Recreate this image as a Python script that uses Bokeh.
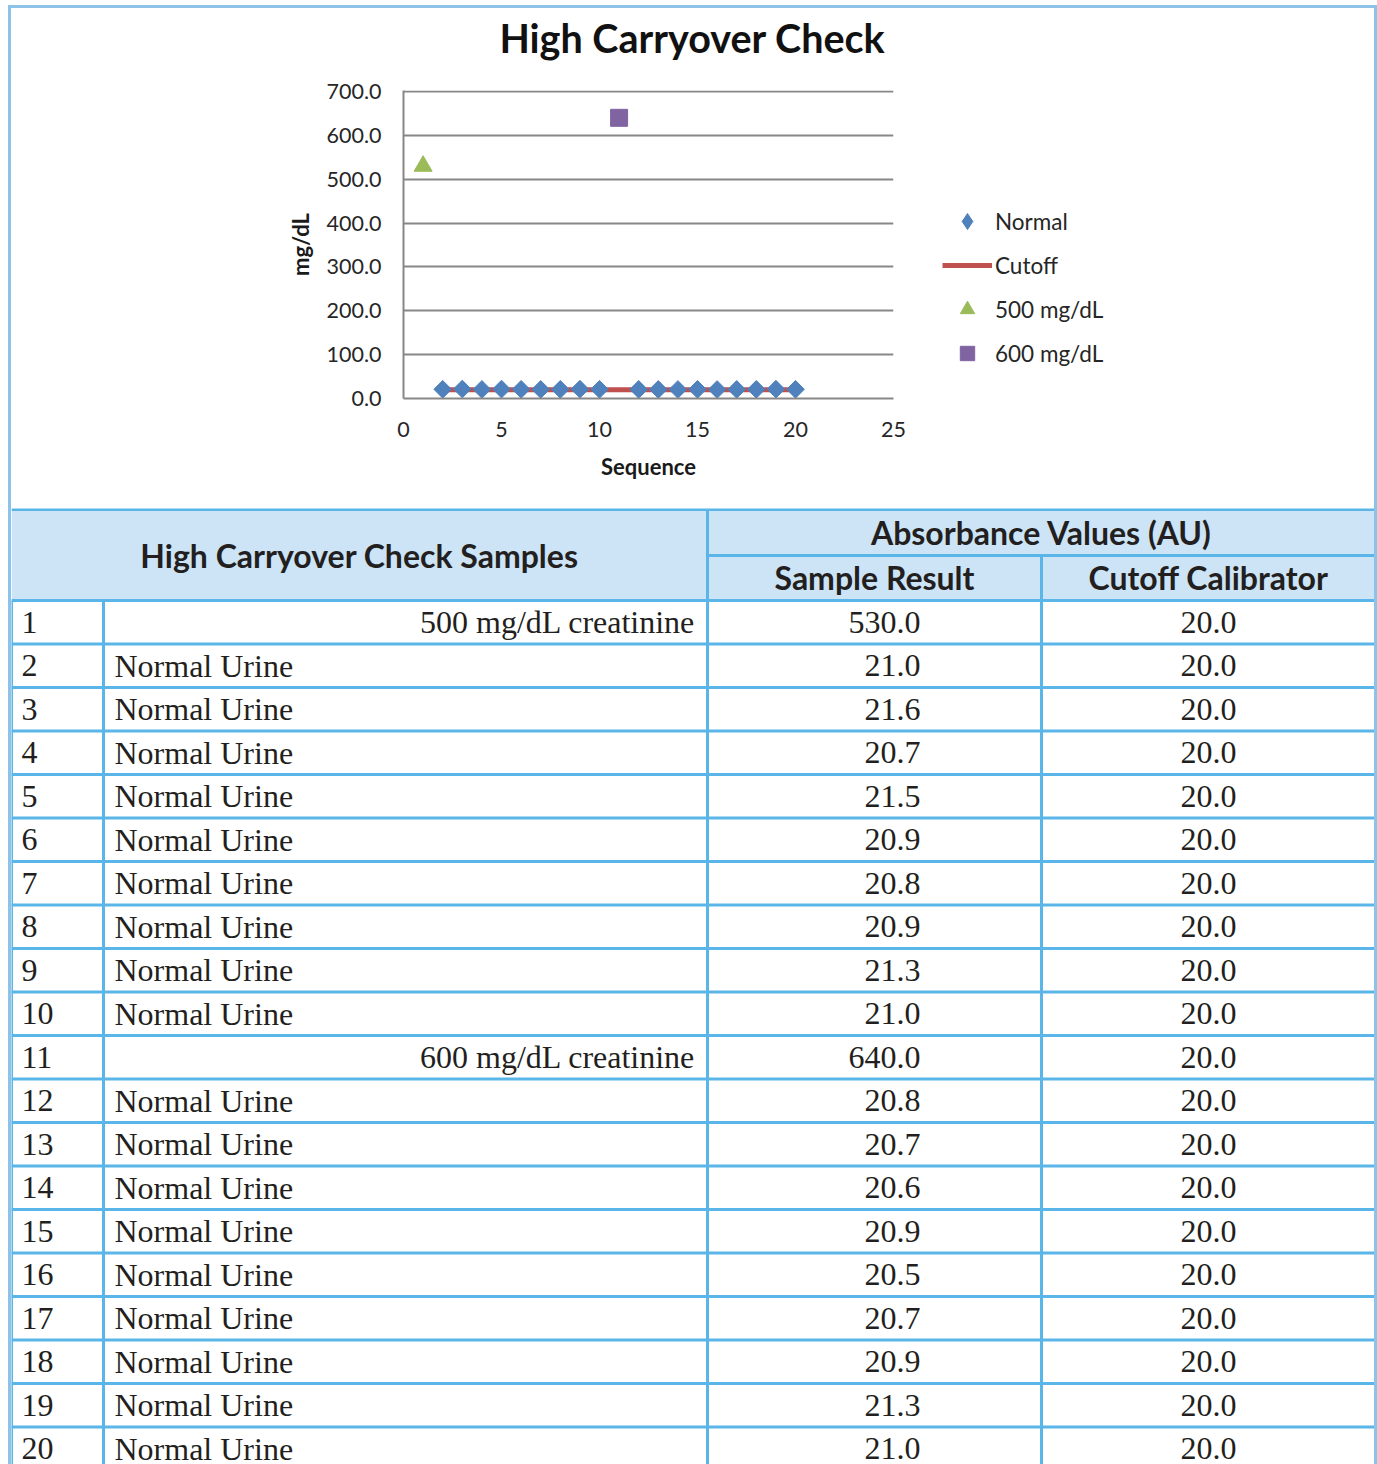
import math
from bokeh.plotting import figure
from bokeh.layouts import column, row
from bokeh.models import (Range1d, FixedTicker, PrintfTickFormatter, Legend,
                          LegendItem, ColumnDataSource)
from bokeh.core.properties import value
from bokeh.embed import file_html
from bokeh.resources import INLINE

# ---- data -------------------------------------------------------------
sequence = list(range(1, 21))
sample_names = (["500 mg/dL creatinine"] + ["Normal Urine"] * 9 +
                ["600 mg/dL creatinine"] + ["Normal Urine"] * 9)
sample_result = [530.0, 21.0, 21.6, 20.7, 21.5, 20.9, 20.8, 20.9, 21.3, 21.0,
                 640.0, 20.8, 20.7, 20.6, 20.9, 20.5, 20.7, 20.9, 21.3, 21.0]
cutoff_calibrator = [20.0] * 20
x_ticks = [0, 5, 10, 15, 20, 25]
y_ticks = [0, 100, 200, 300, 400, 500, 600, 700]

series_labels = ["Normal", "Cutoff", "500 mg/dL", "600 mg/dL"]
chart_title = "High Carryover Check"
table_title = "High Carryover Check Samples"
group_title = "Absorbance Values (AU)"
col_titles = ["Sample Result", "Cutoff Calibrator"]

# ---- styling ----------------------------------------------------------
BLUE = "#4f81bd"
RED = "#c0504d"
GREEN = "#9bbb59"
PURPLE = "#8064a2"
GRID = "#878787"
INK = "#262626"
TABLE_INK = "#231f20"
RULE = "#5ab5e8"
HEAD_FILL = "#cce4f6"
FRAME = "#8ec3e9"
SANS = "Lato"
SERIF = "Liberation Serif"

W = 1363            # inner width of the bordered panel
TITLE_H = 60
CHART_H = 440
TABLE_H = 956
CHART_W = 912
KEY_W = W - CHART_W
Y_TOP = 702.3       # a hair above the last tick so its grid line is drawn

# ---- series split -----------------------------------------------------
is_normal = [n == "Normal Urine" for n in sample_names]
normal_x = [s for s, k in zip(sequence, is_normal) if k]
normal_y = [v for v, k in zip(sample_result, is_normal) if k]
cut_x = sequence[1:]
cut_y = cutoff_calibrator[1:]
hi500_x = [s for s, n in zip(sequence, sample_names) if n.startswith("500")]
hi500_y = [v for v, n in zip(sample_result, sample_names) if n.startswith("500")]
hi600_x = [s for s, n in zip(sequence, sample_names) if n.startswith("600")]
hi600_y = [v for v, n in zip(sample_result, sample_names) if n.startswith("600")]


def canvas(width, height, **kw):
    """A plain drawing surface whose data units are its own pixels."""
    c = figure(width=width, height=height, x_range=Range1d(0, width),
               y_range=Range1d(height, 0), x_axis_type=None, y_axis_type=None,
               output_backend="svg", toolbar_location=None, outline_line_color=None,
               border_fill_color="white", background_fill_color="white",
               frame_align=False, **kw)
    c.grid.visible = False
    return c


# ---- chart title ------------------------------------------------------
head = canvas(W, TITLE_H, min_border=0)
head.text(x=[681], y=[29], text=[chart_title], text_align="center",
          text_baseline="middle", text_font=value(SANS), text_font_style="bold",
          text_font_size="39.5px", text_color="#111111")

# ---- chart ------------------------------------------------------------
chart = figure(width=CHART_W, height=CHART_H, x_range=Range1d(0, 25),
               y_range=Range1d(0, Y_TOP), output_backend="svg", toolbar_location=None,
               min_border_left=392, min_border_right=30,
               min_border_top=22, min_border_bottom=110,
               outline_line_color=None, border_fill_color="white",
               background_fill_color="white", frame_align=False)

chart.xaxis.ticker = FixedTicker(ticks=x_ticks)
chart.yaxis.ticker = FixedTicker(ticks=y_ticks)
chart.yaxis.formatter = PrintfTickFormatter(format="%.1f")
for ax in (chart.xaxis[0], chart.yaxis[0]):
    ax.axis_line_color = GRID
    ax.axis_line_width = 2
    ax.major_tick_line_color = None
    ax.minor_tick_line_color = None
    ax.major_tick_out = 0
    ax.major_tick_in = 0
    ax.minor_tick_out = 0
    ax.major_label_text_font = SANS
    ax.major_label_text_font_size = "21.5px"
    ax.major_label_text_color = INK
    ax.axis_label_text_font = SANS
    ax.axis_label_text_font_style = "bold"
    ax.axis_label_text_font_size = "22px"
    ax.axis_label_text_color = "#1a1a1a"
chart.xaxis.axis_label = "Sequence"
chart.yaxis.axis_label = "mg/dL"
chart.yaxis.bounds = (0, Y_TOP)
chart.yaxis.major_label_standoff = 22
chart.xaxis.major_label_standoff = 23
chart.xaxis.axis_label_standoff = 13
chart.yaxis.axis_label_standoff = 10
chart.xgrid.grid_line_color = None
chart.ygrid.grid_line_color = GRID
chart.ygrid.grid_line_width = 2

chart.line(cut_x, cut_y, line_color=RED, line_width=5)
chart.scatter(normal_x, normal_y, marker="square", angle=math.pi / 4, size=12.5,
              fill_color=BLUE, line_color=BLUE)
chart.scatter(hi500_x, hi500_y, marker="triangle", size=18,
              fill_color=GREEN, line_color=GREEN)
chart.scatter(hi600_x, hi600_y, marker="square", size=17,
              fill_color=PURPLE, line_color=PURPLE)

# ---- key beside the chart -----------------------------------------------
key = canvas(KEY_W, CHART_H, min_border_left=9, min_border_top=123,
             min_border_right=0, min_border_bottom=127)
nan = [float("nan")]
k_normal = key.scatter(nan, nan, marker="diamond", fill_color=BLUE, line_color=BLUE)
k_cut = key.line(nan, nan, line_color=RED, line_width=5)
k_500 = key.scatter(nan, nan, marker="triangle", fill_color=GREEN, line_color=GREEN)
k_600 = key.scatter(nan, nan, marker="square", fill_color=PURPLE, line_color=PURPLE)

key_style = dict(border_line_color=None, background_fill_alpha=0, glyph_width=50,
                 label_standoff=3, padding=0, margin=10, label_text_font=SANS,
                 label_text_font_size="22.5px", label_text_color=INK)
key.add_layout(Legend(items=[LegendItem(label=series_labels[0], renderers=[k_normal])],
                     location="top_left", glyph_height=40, **key_style))
key.add_layout(Legend(items=[LegendItem(label=series_labels[1], renderers=[k_cut]),
                             LegendItem(label=series_labels[2], renderers=[k_500]),
                             LegendItem(label=series_labels[3], renderers=[k_600])],
                     location="bottom_left", glyph_height=36, spacing=8, **key_style))

# ---- table ------------------------------------------------------------
X0 = 11             # page offset of the panel contents
Y0 = 508
table = figure(width=W, height=TABLE_H,
               x_range=Range1d(X0, X0 + W), y_range=Range1d(Y0 + TABLE_H, Y0),
               x_axis_type=None, y_axis_type=None,
               output_backend="svg", toolbar_location=None,
               min_border=0, outline_line_color=None,
               border_fill_color="white", background_fill_color="white",
               frame_align=False)
table.grid.visible = False

col_x = [11, 103, 707, 1041, 1375]
head_top, head_mid, head_bot = 509, 555, 600
row_h = 43.5
n_rows = len(sequence)
row_top = [head_bot + row_h * i for i in range(n_rows)]
row_mid = [t + row_h / 2 for t in row_top]
right_edge = X0 + W + 2

table.quad(left=[X0], right=[right_edge], top=[head_top], bottom=[head_bot],
           fill_color=HEAD_FILL, line_color=None)

h_x0 = [X0, col_x[2]] + [X0] * n_rows
h_x1 = [right_edge] * (n_rows + 2)
h_y = [head_top, head_mid] + row_top
table.segment(x0=h_x0, y0=h_y, x1=h_x1, y1=h_y, line_color=RULE, line_width=3)
v_x = [col_x[0], col_x[1], col_x[2], col_x[3]]
v_y0 = [head_bot, head_bot, head_top, head_mid]
table.segment(x0=v_x, y0=v_y0, x1=v_x, y1=[Y0 + TABLE_H + 10] * 4,
              line_color=RULE, line_width=3)

# header texts
head_src = ColumnDataSource(dict(
    x=[(col_x[0] + col_x[2]) / 2, (col_x[2] + col_x[4]) / 2,
       (col_x[2] + col_x[3]) / 2, (col_x[3] + col_x[4]) / 2],
    y=[(head_top + head_bot) / 2, (head_top + head_mid) / 2,
       (head_mid + head_bot) / 2 - 1, (head_mid + head_bot) / 2 - 1],
    t=[table_title, group_title] + col_titles))
table.text(x="x", y="y", text="t", source=head_src, text_align="center",
           text_baseline="middle", text_font=value(SANS), text_font_style="bold",
           text_font_size="32px", text_color=TABLE_INK)

# body texts
body = dict(text_baseline="middle", text_font=value(SERIF), text_font_size="32px",
            text_color=TABLE_INK)
seq_src = ColumnDataSource(dict(x=[21] * n_rows, y=row_mid, t=[str(s) for s in sequence]))
table.text(x="x", y="y", text="t", source=seq_src, text_align="left", **body)

normal_rows = [i for i, k in enumerate(is_normal) if k]
high_rows = [i for i, k in enumerate(is_normal) if not k]
name_l = ColumnDataSource(dict(x=[114] * len(normal_rows), y=[row_mid[i] for i in normal_rows],
                               t=[sample_names[i] for i in normal_rows]))
name_r = ColumnDataSource(dict(x=[695] * len(high_rows), y=[row_mid[i] for i in high_rows],
                               t=[sample_names[i] for i in high_rows]))
table.text(x="x", y="y", text="t", source=name_l, text_align="left", **body)
table.text(x="x", y="y", text="t", source=name_r, text_align="right", **body)

res_src = ColumnDataSource(dict(x=[920] * n_rows, y=row_mid,
                                t=[f"{v:.1f}" for v in sample_result]))
cut_src = ColumnDataSource(dict(x=[1236] * n_rows, y=row_mid,
                                t=[f"{v:.1f}" for v in cutoff_calibrator]))
for src in (res_src, cut_src):
    table.text(x="x", y="y", text="t", source=src, text_align="right", **body)

page = column(head, row(chart, key, spacing=0), table, spacing=0, width=W + 6,
              height=TITLE_H + CHART_H + TABLE_H + 3,
              styles={"margin-left": "8px", "margin-top": "5px",
                      "border-left": f"3px solid {FRAME}",
                      "border-right": f"3px solid {FRAME}",
                      "border-top": f"3px solid {FRAME}"})

with open("out.html", "w") as f:
    f.write(file_html(page, INLINE))
